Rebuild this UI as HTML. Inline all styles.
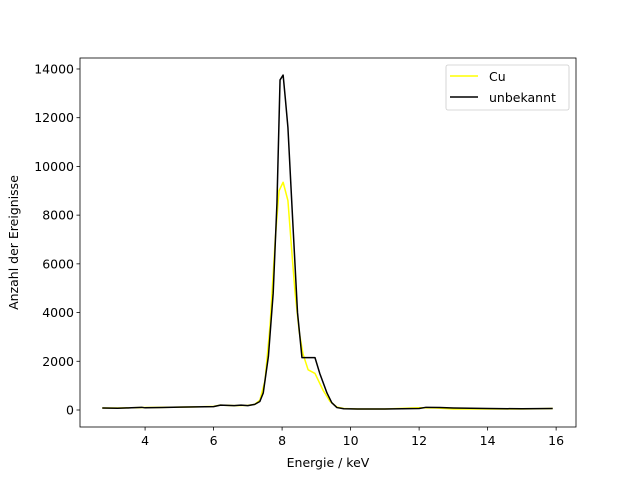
<!DOCTYPE html>
<html><head><meta charset="utf-8"><style>
body{margin:0;background:#fff}
svg{font-family:"DejaVu Sans","Liberation Sans",sans-serif}
</style></head><body>
<svg id="chart" width="640" height="480"></svg>
<script>
const cuE=[2.75,3.2,3.6,4.0,4.5,5.0,5.5,6.0,6.2,6.6,7.0,7.2,7.35,7.5,7.65,7.8,7.91,8.03,8.17,8.3,8.38,8.5,8.61,8.76,8.96,9.2,9.4,9.6,9.8,10.2,11,12,12.5,13,14,15,15.9];
const cuV=[80,80,90,100,110,120,130,150,200,180,190,230,400,1200,3500,7000,9000,9350,8600,6200,4800,3200,2300,1650,1500,800,350,120,60,40,40,90,80,40,40,40,60];
const unE=[2.75,3.2,3.6,3.9,4.0,4.5,5.0,5.5,6.0,6.2,6.6,6.8,7.0,7.2,7.35,7.45,7.6,7.74,7.85,7.94,8.03,8.1,8.17,8.32,8.45,8.58,8.96,9.1,9.31,9.45,9.6,9.8,10.2,11,12,12.2,12.6,13,14,15,15.9];
const unV=[80,70,90,110,90,100,120,130,140,200,180,200,180,230,350,700,2200,4800,8500,13550,13750,12700,11600,7500,4000,2150,2150,1500,700,300,100,50,40,40,60,110,100,80,60,50,60];
const xTicks=[4,6,8,10,12,14,16];
const yTicks=[0,2000,4000,6000,8000,10000,12000,14000];
const L=80,R=576,T=58,B=427,xmin=2.1,xmax=16.58,ymin=-698,ymax=14451;
const sx=v=>L+(v-xmin)/(xmax-xmin)*(R-L);
const sy=v=>B-(v-ymin)/(ymax-ymin)*(B-T);
const svg=document.getElementById('chart');const NS='http://www.w3.org/2000/svg';
function mk(t,a,p){const e=document.createElementNS(NS,t);for(const k in a)e.setAttribute(k,a[k]);(p||svg).appendChild(e);return e;}
function line(E,V,c,n){const el=mk('polyline',{points:E.map((e,i)=>sx(e)+','+sy(V[i])).join(' '),fill:'none',stroke:c,'stroke-width':1.5,'stroke-linejoin':'round'});

}
line(cuE,cuV,'#ffff00','series-cu');
line(unE,unV,'#000000','series-unbekannt');
const frame=mk('rect',{x:L,y:T,width:R-L,height:B-T,fill:'none',stroke:'#000','stroke-width':0.8});


xTicks.forEach(v=>{const x=sx(v);mk('line',{x1:x,x2:x,y1:B,y2:B+3.5,stroke:'#000','stroke-width':0.8});
const t=mk('text',{x:x,y:B+18,'text-anchor':'middle','font-size':12.5});t.textContent=v;

});
yTicks.forEach(v=>{const y=sy(v);mk('line',{x1:L,x2:L-3.5,y1:y,y2:y,stroke:'#000','stroke-width':0.8});
const t=mk('text',{x:L-6,y:y+4.5,'text-anchor':'end','font-size':12.5});t.textContent=v;

});
const xt=mk('text',{x:(L+R)/2,y:467,'text-anchor':'middle','font-size':12.5});xt.textContent='Energie / keV';


const yt=mk('text',{x:18,y:(T+B)/2,'text-anchor':'middle','font-size':12.5,transform:'rotate(-90 18 '+(T+B)/2+')'});yt.textContent='Anzahl der Ereignisse';


const lg=mk('g',{});


mk('rect',{x:446,y:65,width:123,height:45,rx:2,fill:'#fff',stroke:'#ccc','stroke-width':0.8},lg);
mk('line',{x1:450,x2:478,y1:76,y2:76,stroke:'#ffff00','stroke-width':1.5},lg);
mk('line',{x1:450,x2:478,y1:97,y2:97,stroke:'#000','stroke-width':1.5},lg);
const l1=mk('text',{x:489,y:81,'font-size':12.5},lg);l1.textContent='Cu';


const l2=mk('text',{x:489,y:102,'font-size':12.5},lg);l2.textContent='unbekannt';


</script>
</body></html>
